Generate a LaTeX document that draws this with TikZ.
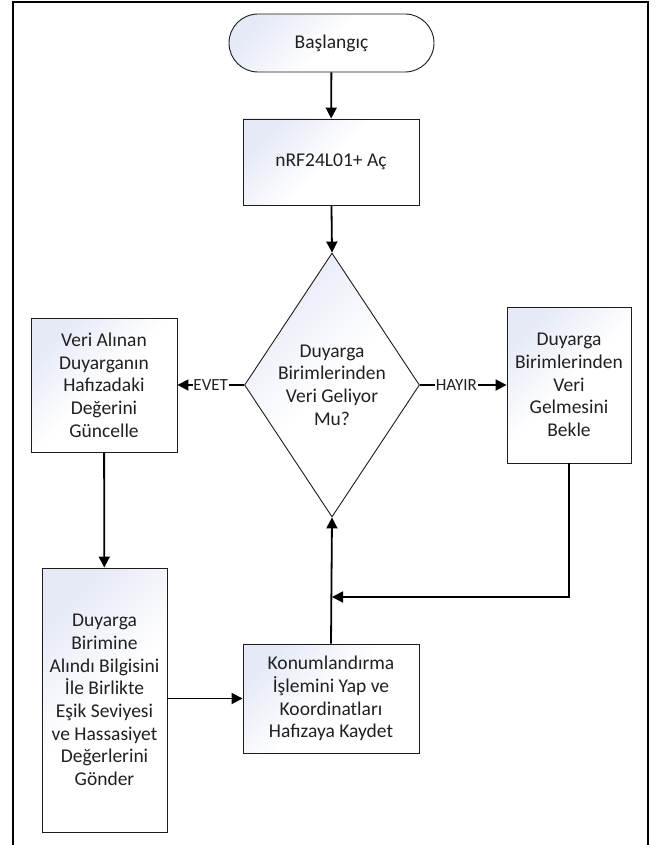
\documentclass[tikz,border=0pt]{standalone}
\usepackage{fontspec}
\setmainfont{Carlito}
\usetikzlibrary{arrows.meta,shapes.geometric}

\definecolor{inkline}{HTML}{1C1C1C}
\definecolor{inktext}{HTML}{202020}
\definecolor{boxtint}{HTML}{E6EAF7}

\tikzset{
  shaded/.style={top color=boxtint, bottom color=white, middle color=white,
    shading angle=45},
  stepbox/.style={draw=inkline, line width=0.9pt, shaded, align=center,
    inner sep=0pt, text=inktext, font=\fontsize{19.5}{22.7}\selectfont},
  termbox/.style={stepbox, rounded corners=29pt},
  decbox/.style={draw=inkline, line width=0.9pt, shaded, shape=diamond,
    inner sep=0pt},
  arr/.style={draw=black, line width=1.8pt,
    -{Triangle[length=11pt,width=11pt]}},
  lbl/.style={fill=white, inner sep=0.8pt, text=inktext,
    font=\fontsize{17}{19}\selectfont},
}

\begin{document}
\begin{tikzpicture}[x=1pt,y=-1pt]
  \useasboundingbox (0,0) rectangle (657,845);

  % open frame around the chart
  \draw[line width=2.2pt] (13,845) -- (13,2) -- (648,2) -- (648,845);

  % nodes
  \node[termbox, minimum width=205pt, minimum height=58pt] (start) at (331.5,43) {Başlangıç};
  \node[stepbox, minimum width=176pt, minimum height=86pt] (open) at (331,162) {nRF24L01+ Aç};
  \node[decbox, minimum width=175pt, minimum height=264pt] (dec) at (332,385) {};
  \node[align=center, text=inktext, font=\fontsize{19.5}{22.7}\selectfont] (dectext) at (dec.center)
    {Duyarga\\Birimlerinden\\Veri Geliyor\\Mu?};
  \node[stepbox, minimum width=146pt, minimum height=134pt] (upd) at (104,385)
    {Veri Alınan\\Duyarganın\\Hafızadaki\\Değerini\\Güncelle};
  \node[stepbox, minimum width=124pt, minimum height=156pt] (wait) at (569,385)
    {Duyarga\\Birimlerinden\\Veri\\Gelmesini\\Bekle};
  \node[stepbox, minimum width=125pt, minimum height=264pt] (send) at (104.5,700)
    {Duyarga\\Birimine\\Alındı Bilgisini\\İle Birlikte\\Eşik Seviyesi\\ve Hassasiyet\\Değerlerini\\Gönder};
  \node[stepbox, minimum width=176pt, minimum height=109pt] (loc) at (331,698.5)
    {Konumlandırma\\İşlemini Yap ve\\Koordinatları\\Hafızaya Kaydet};
  \coordinate (merge) at (332,597);

  % connectors
  \draw[arr] (start) -- (open);
  \draw[arr] (open) -- (dec.north);
  \draw[arr] (dec.west) -- node[lbl] {EVET} (upd.east);
  \draw[arr] (dec.east) -- node[lbl, pos=0.42] {HAYIR} (wait.west);
  \draw[arr] (upd) -- (send);
  \draw[arr] (send.east |- loc.west) -- (loc.west);
  \draw[arr] (loc.north) -- (dec.south);
  \draw[arr] (wait.south) |- (merge);
\end{tikzpicture}
\end{document}
